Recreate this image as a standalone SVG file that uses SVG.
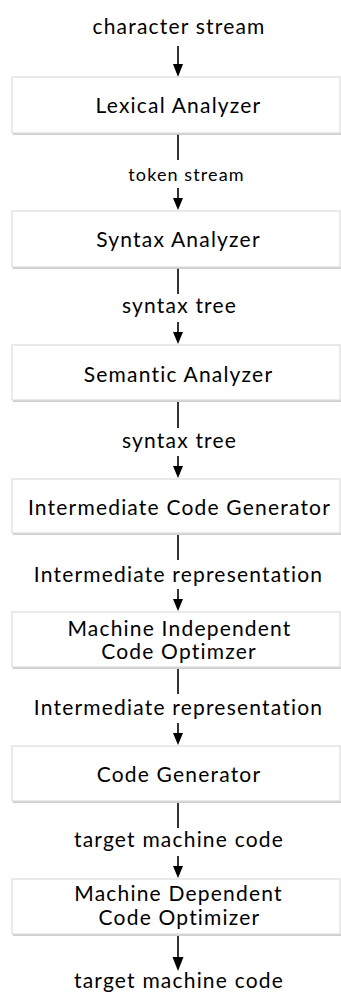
<svg xmlns="http://www.w3.org/2000/svg" width="341" height="999" viewBox="0 0 341 999">
<defs>
<style>
.box{fill:#ffffff;stroke:#dcdcdc;stroke-width:1.2}
.shadow{stroke:#c4c4c4;stroke-width:2;opacity:0.8}
.t{font-family:Lato,"Open Sans","Liberation Sans",sans-serif;font-size:21px;letter-spacing:1.2px;font-variant-ligatures:none;fill:#000;text-anchor:middle}
.s{font-size:18px;letter-spacing:1.1px}
.ln{stroke:#000;stroke-width:1.6;fill:none}
.hd{fill:#000}
</style>
</defs>
<rect width="341" height="999" fill="#ffffff"/>
<g id="connectors">
<line class="ln" x1="178" y1="46" x2="178" y2="65"/>
<polygon class="hd" points="173,64 183,64 178,77"/>
<line class="ln" x1="178" y1="134" x2="178" y2="160"/>
<line class="ln" x1="178" y1="188" x2="178" y2="199"/>
<polygon class="hd" points="173,198 183,198 178,210"/>
<line class="ln" x1="178" y1="268" x2="178" y2="294"/>
<line class="ln" x1="178" y1="322" x2="178" y2="333"/>
<polygon class="hd" points="173,332 183,332 178,344"/>
<line class="ln" x1="178" y1="402" x2="178" y2="428"/>
<line class="ln" x1="178" y1="456" x2="178" y2="467"/>
<polygon class="hd" points="173,466 183,466 178,478"/>
<line class="ln" x1="178" y1="535" x2="178" y2="560"/>
<line class="ln" x1="178" y1="589" x2="178" y2="600"/>
<polygon class="hd" points="173,599 183,599 178,611"/>
<line class="ln" x1="178" y1="669" x2="178" y2="694"/>
<line class="ln" x1="178" y1="723" x2="178" y2="734"/>
<polygon class="hd" points="173,733 183,733 178,745"/>
<line class="ln" x1="178" y1="803" x2="178" y2="828"/>
<line class="ln" x1="178" y1="856" x2="178" y2="867"/>
<polygon class="hd" points="173,866 183,866 178,878"/>
<line class="ln" x1="178" y1="936" x2="178" y2="958"/>
<polygon class="hd" points="172.5,957 183.5,957 178,971"/>
</g>
<g id="labels">
<text class="t" x="179" y="34">character stream</text>
<text class="t s" x="186.5" y="181">token stream</text>
<text class="t" x="179.5" y="313">syntax tree</text>
<text class="t" x="179.5" y="448">syntax tree</text>
<text class="t" x="178.5" y="582">Intermediate representation</text>
<text class="t" x="178.5" y="715">Intermediate representation</text>
<text class="t" x="179" y="847">target machine code</text>
<text class="t" x="179" y="988">target machine code</text>
</g>
<g id="lexical">
<line class="shadow" x1="13" y1="134" x2="341" y2="134"/>
<rect class="box" x="12" y="77" width="328" height="56"/>
<text class="t" x="178.5" y="113">Lexical Analyzer</text>
</g>
<g id="syntax">
<line class="shadow" x1="13" y1="268" x2="341" y2="268"/>
<rect class="box" x="12" y="211" width="328" height="56"/>
<text class="t" x="178.5" y="247">Syntax Analyzer</text>
</g>
<g id="semantic">
<line class="shadow" x1="13" y1="401" x2="341" y2="401"/>
<rect class="box" x="12" y="345" width="328" height="55"/>
<text class="t" x="178.5" y="382">Semantic Analyzer</text>
</g>
<g id="icg">
<line class="shadow" x1="13" y1="534" x2="341" y2="534"/>
<rect class="box" x="12" y="479" width="328" height="54"/>
<text class="t" x="179.5" y="515">Intermediate Code Generator</text>
</g>
<g id="mico">
<line class="shadow" x1="13" y1="668" x2="341" y2="668"/>
<rect class="box" x="12" y="612" width="328" height="55"/>
<text class="t" x="179.5" y="636">Machine Independent</text>
<text class="t" x="179" y="659">Code Optimzer</text>
</g>
<g id="codegen">
<line class="shadow" x1="13" y1="802" x2="341" y2="802"/>
<rect class="box" x="12" y="746" width="328" height="55"/>
<text class="t" x="179" y="782">Code Generator</text>
</g>
<g id="mdco">
<line class="shadow" x1="13" y1="935" x2="341" y2="935"/>
<rect class="box" x="12" y="879" width="328" height="55"/>
<text class="t" x="178.5" y="901">Machine Dependent</text>
<text class="t" x="179.5" y="925">Code Optimizer</text>
</g>
</svg>
